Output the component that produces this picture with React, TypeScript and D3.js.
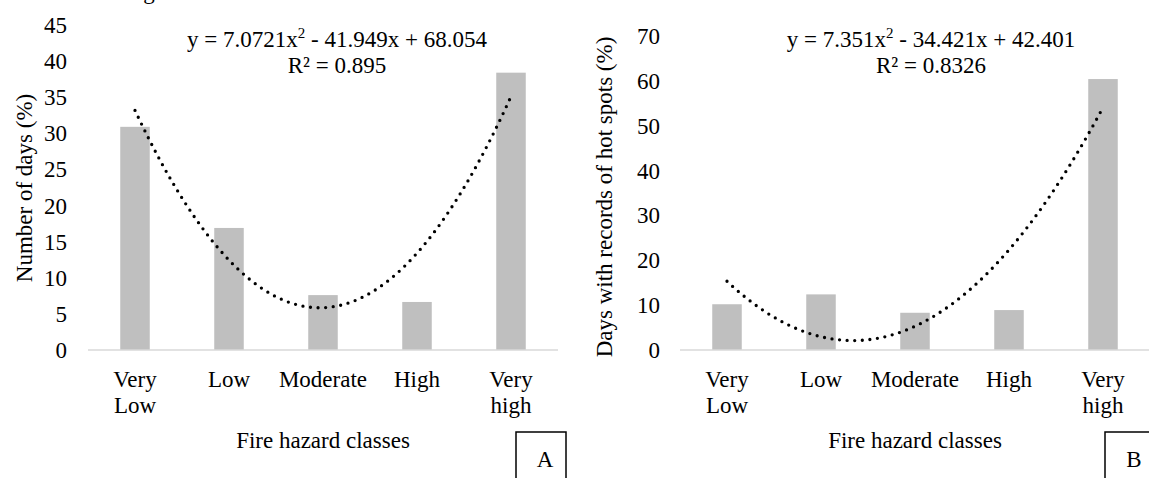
import { useRef, useEffect } from 'react';
import * as d3 from 'd3';

const categories = [['Very', 'Low'], ['Low'], ['Moderate'], ['High'], ['Very', 'high']];
const daysPct = [30.9, 16.9, 7.6, 6.65, 38.4];
const hotSpotPct = [10.2, 12.4, 8.3, 8.9, 60.4];
const coefA = [7.0721, -41.949, 68.054];
const coefB = [7.351, -34.421, 42.401];
const ticksA = [0, 5, 10, 15, 20, 25, 30, 35, 40, 45];
const ticksB = [0, 10, 20, 30, 40, 50, 60, 70];

const FONT = '"Liberation Serif", "Times New Roman", serif';

export default function App() {
  const ref = useRef(null);

  useEffect(() => {
    const svg = d3.select(ref.current);
    svg.selectAll('*').remove();

    // clipped caption line from the page above
    svg.append('text')
      .attr('x', 375).attr('y', -1)
      .attr('text-anchor', 'end')
      .attr('font-family', FONT).attr('font-size', 23)
      .text('of the fire hazard classes with increasing behavior of the classes.');

    const panels = [
      {
        values: daysPct, coef: coefA, ticks: ticksA, max: 45, top: 25,
        x0: 88, x1: 558, labelX: 67, titleX: 24, titleY: 188,
        title: 'Number of days (%)', eqX: 337,
        eq: ['y = 7.0721x', '2', ' - 41.949x + 68.054'], r2: 'R² = 0.895',
        box: 'A', boxX: 516
      },
      {
        values: hotSpotPct, coef: coefB, ticks: ticksB, max: 70, top: 36,
        x0: 680, x1: 1150, labelX: 660, titleX: 604, titleY: 197,
        title: 'Days with records of hot spots (%)', eqX: 931,
        eq: ['y = 7.351x', '2', ' - 34.421x + 42.401'], r2: 'R² = 0.8326',
        box: 'B', boxX: 1105
      }
    ];

    const base = 350;

    panels.forEach(p => {
      const g = svg.append('g').attr('font-family', FONT).attr('font-size', 23).attr('fill', '#000');

      const x = d3.scaleBand()
        .domain(d3.range(categories.length))
        .range([p.x0, p.x1])
        .paddingInner(0.686)
        .paddingOuter(0.343);

      const y = d3.scaleLinear().domain([0, p.max]).range([base, p.top]);

      // tick labels
      g.selectAll('text.tick')
        .data(p.ticks)
        .join('text')
        .attr('class', 'tick')
        .attr('x', p.labelX)
        .attr('y', d => y(d) + 8)
        .attr('text-anchor', 'end')
        .text(d => d);

      // bars
      g.selectAll('rect')
        .data(p.values)
        .join('rect')
        .attr('x', (d, i) => x(i))
        .attr('width', x.bandwidth())
        .attr('y', d => y(d))
        .attr('height', d => base - y(d))
        .attr('fill', '#bfbfbf');

      // baseline
      g.append('line')
        .attr('x1', p.x0).attr('x2', p.x1)
        .attr('y1', base).attr('y2', base)
        .attr('stroke', '#d9d9d9').attr('stroke-width', 1.5);

      // polynomial trendline
      const pos = d3.scaleLinear().domain([1, 5])
        .range([x(0) + x.bandwidth() / 2, x(4) + x.bandwidth() / 2]);
      const pts = d3.range(1, 5.001, 0.02).map(t => [t, p.coef[0] * t * t + p.coef[1] * t + p.coef[2]]);
      g.append('path')
        .datum(pts)
        .attr('fill', 'none')
        .attr('stroke', '#000')
        .attr('stroke-width', 3.3)
        .attr('stroke-linecap', 'round')
        .attr('stroke-dasharray', '0 7.6')
        .attr('d', d3.line().x(d => pos(d[0])).y(d => y(d[1])));

      // category labels
      categories.forEach((lines, i) => {
        const cx = x(i) + x.bandwidth() / 2;
        lines.forEach((l, j) => {
          g.append('text')
            .attr('x', cx).attr('y', 387 + j * 25.5)
            .attr('text-anchor', 'middle')
            .text(l);
        });
      });

      // axis titles
      g.append('text')
        .attr('x', (p.x0 + p.x1) / 2).attr('y', 448)
        .attr('text-anchor', 'middle')
        .text('Fire hazard classes');

      g.append('text')
        .attr('transform', `translate(${p.titleX + 8},${p.titleY}) rotate(-90)`)
        .attr('text-anchor', 'middle')
        .text(p.title);

      // equation
      const eq = g.append('text').attr('x', p.eqX).attr('y', 47).attr('text-anchor', 'middle');
      eq.append('tspan').text(p.eq[0]);
      eq.append('tspan').attr('font-size', 15).attr('dy', -9).text(p.eq[1]);
      eq.append('tspan').attr('dy', 9).text(p.eq[2]);
      g.append('text').attr('x', p.eqX).attr('y', 73).attr('text-anchor', 'middle').text(p.r2);

      // panel letter box
      g.append('rect')
        .attr('x', p.boxX).attr('y', 432)
        .attr('width', 50).attr('height', 60)
        .attr('fill', 'none').attr('stroke', '#000').attr('stroke-width', 1.5);
      g.append('text')
        .attr('x', p.boxX + 29).attr('y', 467)
        .attr('text-anchor', 'middle')
        .text(p.box);
    });
  }, []);

  return (
    <svg ref={ref} width={1149} height={478}
      style={{ position: 'absolute', left: 0, top: 0, background: '#fff', display: 'block' }} />
  );
}
